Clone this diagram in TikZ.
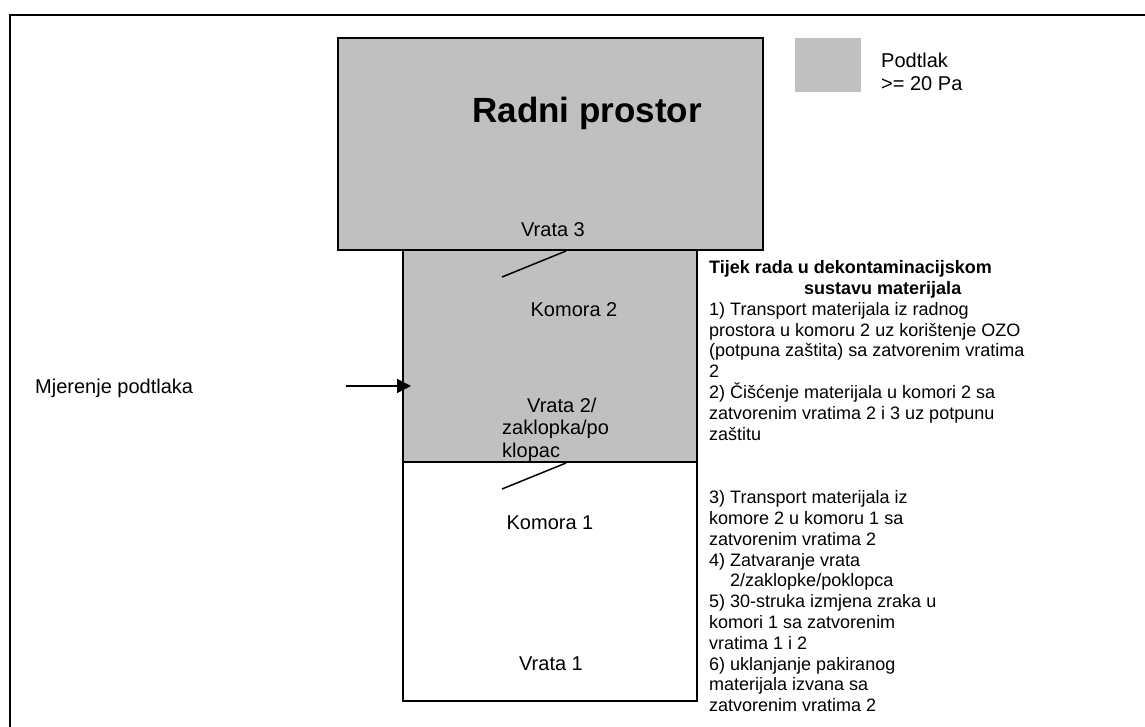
\documentclass[tikz,border=0pt]{standalone}
\usepackage{fontspec}
\setmainfont{Liberation Sans}
\usetikzlibrary{arrows.meta}
\definecolor{roomgray}{RGB}{192,192,192}

\begin{document}
\begin{tikzpicture}[x=1pt, y=-1pt,
    room/.style={draw=black, line width=1.8pt, fill=roomgray},
    door/.style={draw=black, line width=1.5pt},
    label/.style={inner sep=0pt, anchor=base, font={\fontsize{20}{22.5}\selectfont}},
    notes/.style={inner sep=0pt, anchor=north west, align=left, font={\fontsize{18}{20.8}\selectfont}}]
        \useasboundingbox (0,0) rectangle (1145,727);

        % Draw the outer frame
        \draw[line width=2pt] (10,727) -- (10,15) -- (1145,15);

        % Draw the work room and the two chambers
        \draw[room] (338,38) rectangle (763,250);
        \draw[room] (403,250) rectangle (697,462);
        \draw[room, fill=white] (403,462) rectangle (697,701);

        % Draw the doors
        \coordinate (d3a) at (502,277);
        \coordinate (d3b) at (566,251);
        \draw[door] (d3a) -- (d3b);
        \coordinate (d2a) at (502,489);
        \coordinate (d2b) at (566,463);
        \draw[door] (d2a) -- (d2b);

        % Legend
        \fill[roomgray] (795,38) rectangle (861,92);
        \node[label, anchor=north west, align=left, font={\fontsize{20}{23}\selectfont}] (podtlak) at (881,52.6) {Podtlak\\>= 20 Pa};

        % Labels of the rooms
        \node[label, font={\fontsize{35}{40}\selectfont\bfseries}] (radni) at (587,122.5) {Radni prostor};
        \node[label] (vrata3) at (553,237) {Vrata 3};
        \node[label] (komora2) at (574,316) {Komora 2};
        \node[label, anchor=north west, align=left] (vrata2) at (502,397.6) {\hspace*{25pt}Vrata 2/\\zaklopka/po\\klopac};
        \node[label] (komora1) at (550,529) {Komora 1};
        \node[label] (vrata1) at (551,670) {Vrata 1};

        % Pressure measurement
        \node[label, anchor=base west] (mjerenje) at (35,393) {Mjerenje podtlaka};
        \coordinate (probe) at (346,386);
        \coordinate (probeTip) at (411,386);
        \draw[line width=1.5pt, -{Triangle[length=14pt,width=14pt]}] (probe) -- (probeTip);

        % Work flow steps
        \node[notes] (tijek) at (709,260.5) {\textbf{Tijek rada u dekontaminacijskom}\\\hspace*{95pt}\textbf{sustavu materijala}\\1) Transport materijala iz radnog\\prostora u komoru 2 uz korištenje OZO\\(potpuna zaštita) sa zatvorenim vratima\\2\\2) Čišćenje materijala u komori 2 sa\\zatvorenim vratima 2 i 3 uz potpunu\\zaštitu};
        \node[notes] (koraci) at (709,490.5) {3) Transport materijala iz\\komore 2 u komoru 1 sa\\zatvorenim vratima 2\\4) Zatvaranje vrata\\\hspace*{21pt}2/zaklopke/poklopca\\5) 30-struka izmjena zraka u\\komori 1 sa zatvorenim\\vratima 1 i 2\\6) uklanjanje pakiranog\\materijala izvana sa\\zatvorenim vratima 2};
    \end{tikzpicture}
\end{document}
